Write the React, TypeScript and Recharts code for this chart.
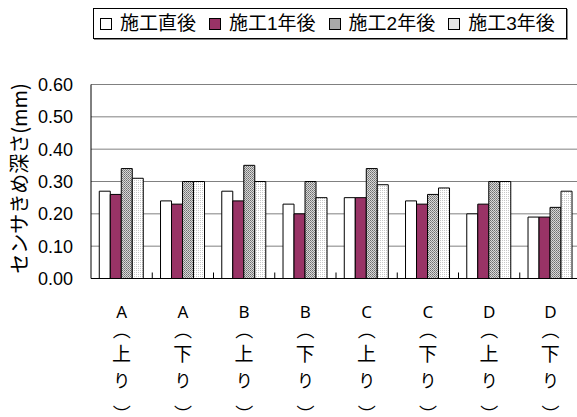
import React from 'react';
import { BarChart, Bar, XAxis, YAxis, CartesianGrid, Legend } from 'recharts';

const sections = ['A', 'A', 'B', 'B', 'C', 'C', 'D', 'D'];
const directions = ['上', '下', '上', '下', '上', '下', '上', '下'];
const seriesNames = ['施工直後', '施工1年後', '施工2年後', '施工3年後'];
const justAfter = [0.27, 0.24, 0.27, 0.23, 0.25, 0.24, 0.2, 0.19];
const year1 = [0.26, 0.23, 0.24, 0.2, 0.25, 0.23, 0.23, 0.19];
const year2 = [0.34, 0.3, 0.35, 0.3, 0.34, 0.26, 0.3, 0.22];
const year3 = [0.31, 0.3, 0.3, 0.25, 0.29, 0.28, 0.3, 0.27];
const yTicks = [0, 0.1, 0.2, 0.3, 0.4, 0.5, 0.6];

const data = sections.map((s, i) => ({
  name: s + directions[i],
  s0: justAfter[i],
  s1: year1[i],
  s2: year2[i],
  s3: year3[i],
}));

const fills = ['#ffffff', '#993366', 'url(#hatch2)', 'url(#hatch3)'];
const swatch = ['#ffffff', '#993366', '#a8a8a8', '#e6e6e6'];

const FONT = '"Liberation Sans", "Noto Sans CJK JP", sans-serif';
const CJK = '"Noto Sans CJK JP", "Liberation Sans", sans-serif';

const CHART_W = 581;
const PLOT_LEFT = 91;

function CategoryTick(props: any) {
  const { x, y, payload, index } = props;
  const i = payload.index ?? index;
  const half = (CHART_W - PLOT_LEFT) / sections.length / 2;
  return (
    <g>
      {i > 0 && (
        <line x1={x - half} x2={x - half} y1={y - 6} y2={y} stroke="#000" />
      )}
      <g fill="#000" textAnchor="middle">
        <text x={x} y={y + 39.5} fontSize={17} fontFamily='"Noto Sans", sans-serif'>{sections[i]}</text>
        <text x={x} y={y + 58} fontSize={18} fontFamily={CJK}>︵</text>
        <text x={x} y={y + 82} fontSize={19} fontFamily={CJK}>{directions[i]}</text>
        <text x={x} y={y + 108} fontSize={17} fontFamily={CJK}>り</text>
        <text x={x} y={y + 142} fontSize={18} fontFamily={CJK}>︶</text>
      </g>
    </g>
  );
}

function LegendBox() {
  return (
    <div
      style={{
        display: 'flex',
        alignItems: 'center',
        height: 29,
        border: '1px solid #000',
        boxShadow: '1px 1px 0 #888',
        background: '#fff',
        fontFamily: FONT,
        fontSize: 19,
        paddingLeft: 6,
        boxSizing: 'content-box',
      }}
    >
      {seriesNames.map((n, i) => (
        <div key={n} style={{ display: 'flex', alignItems: 'center', marginRight: 13 }}>
          <span
            style={{
              display: 'inline-block',
              width: 10,
              height: 10,
              border: '1px solid #000',
              background: swatch[i],
              marginRight: 8,
            }}
          />
          <span style={{ whiteSpace: 'nowrap', lineHeight: '20px' }}>{n}</span>
        </div>
      ))}
    </div>
  );
}

export default function App() {
  return (
    <div
      style={{
        position: 'absolute',
        left: 0,
        top: 0,
        width: 577,
        height: 417,
        overflow: 'hidden',
        background: '#fff',
      }}
    >
      <BarChart
        width={CHART_W}
        height={417}
        data={data}
        margin={{ top: 53.5, right: 0, bottom: 0, left: 0 }}
        barCategoryGap="13.5%"
        barGap={0}
      >
        <defs>
          <pattern id="hatch2" width="2" height="2" patternUnits="userSpaceOnUse">
            <rect width="2" height="2" fill="#d8d8d8" />
            <rect width="1" height="1" fill="#6e6e6e" />
            <rect x="1" y="1" width="1" height="1" fill="#8a8a8a" />
          </pattern>
          <pattern id="hatch3" width="2" height="2" patternUnits="userSpaceOnUse">
            <rect width="2" height="2" fill="#ffffff" />
            <rect width="1" height="1" fill="#c8c8c8" />
          </pattern>
        </defs>
        <CartesianGrid vertical={false} stroke="#808080" />
        <XAxis
          dataKey="name"
          height={138.5}
          interval={0}
          tickLine={false}
          tickSize={0}
          tickMargin={0}
          axisLine={{ stroke: '#000' }}
          tick={<CategoryTick />}
        />
        <YAxis
          width={PLOT_LEFT}
          domain={[0, 0.6]}
          ticks={yTicks}
          interval={0}
          tickFormatter={(v: number) => v.toFixed(2)}
          tickLine={false}
          tickSize={0}
          tickMargin={18}
          axisLine={{ stroke: '#000' }}
          tick={{ fill: '#000', fontSize: 18, fontFamily: FONT }}
          label={(p: any) => {
            const vb = p.viewBox;
            const cy = vb.y + vb.height / 2 - 3;
            return (
              <text
                x={18}
                y={cy}
                transform={`rotate(-90 18 ${cy})`}
                textAnchor="middle"
                dominantBaseline="central"
                fontFamily={CJK}
                fontSize={20}
                fill="#000"
              >
                センサきめ深さ(mm)
              </text>
            );
          }}
        />
        <Legend
          verticalAlign="top"
          content={<LegendBox />}
          wrapperStyle={{ top: 8, left: 93, width: 474 }}
        />
        {['s0', 's1', 's2', 's3'].map((k, i) => (
          <Bar
            key={k}
            dataKey={k}
            name={seriesNames[i]}
            fill={fills[i]}
            stroke="#000"
            strokeWidth={1}
            isAnimationActive={false}
          />
        ))}
      </BarChart>
    </div>
  );
}
